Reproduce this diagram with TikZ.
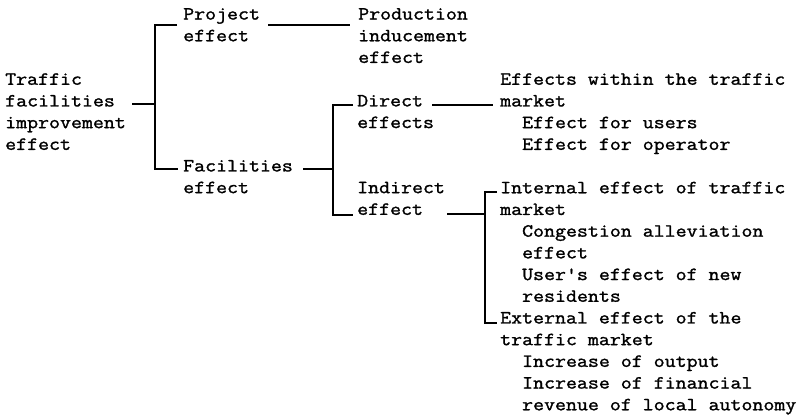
\documentclass[tikz,border=0pt]{standalone}
\usepackage{fontspec}
\newfontfamily\typefont[FakeStretch=1.145, FakeBold=1.4]{Latin Modern Mono}
\newcommand{\txtfont}{\typefont\fontsize{18.6}{21.7}\selectfont}
\newcommand{\ind}{\phantom{xx}}
\begin{document}
\begin{tikzpicture}[x=1pt,y=-1pt,
  lbl/.style={anchor=north west, inner sep=0pt, align=left, font=\txtfont,
              execute at begin node=\strut},
  wire/.style={line width=1.1pt, line cap=butt}]
\useasboundingbox (0,0) rectangle (806,420);

% text blocks (top of first line = 8 + 21.7*row)
\node[lbl] (root)       at (5,73.1)    {Traffic\\facilities\\improvement\\effect};
\node[lbl] (project)    at (183,8.0)   {Project\\effect};
\node[lbl] (production) at (358,8.0)   {Production\\inducement\\effect};
\node[lbl] (facilities) at (183,159.9) {Facilities\\effect};
\node[lbl] (direct)     at (357,94.8)  {Direct\\effects};
\node[lbl] (indirect)   at (357,181.6) {Indirect\\effect};
\node[lbl] (within)     at (500,73.1)  {Effects within the traffic\\market\\\ind Effect for users\\\ind Effect for operator};
\node[lbl] (internal)   at (500,181.6) {Internal effect of traffic\\market\\\ind Congestion alleviation\\\ind effect\\\ind User's effect of new\\\ind residents};
\node[lbl] (external)   at (500,311.8) {External effect of the\\traffic market\\\ind Increase of output\\\ind Increase of financial\\\ind revenue of local autonomy};

% bracket corners and junctions
\coordinate (jA)  at (155,104);
\coordinate (aT)  at (155,25);
\coordinate (aB)  at (155,169);
\coordinate (jB)  at (333,169);
\coordinate (bT)  at (333,105);
\coordinate (bB)  at (333,215);
\coordinate (jC)  at (485,214);
\coordinate (cT)  at (485,192);
\coordinate (cB)  at (485,323);

% first level
\draw[wire] ([xshift=6pt]root.east |- jA) -- (jA);
\draw[wire] ([xshift=-6pt]project.west |- aT) -- (aT) -- (aB) -- ([xshift=-5pt]facilities.west |- aB);
\draw[wire] ([xshift=85pt]project.west |- aT) -- ([xshift=-8pt]production.west |- aT);

% facilities branch
\draw[wire] ([xshift=10pt]facilities.east |- jB) -- (jB);
\draw[wire] ([xshift=-4pt]direct.west |- bT) -- (bT) -- (bB) -- ([xshift=-4pt]indirect.west |- bB);
\draw[wire] ([xshift=75pt]direct.west |- bT) -- ([xshift=-7pt]within.west |- bT);

% indirect branch
\draw[wire] ([xshift=90pt]indirect.west |- jC) -- (jC);
\draw[wire] ([xshift=-3pt]internal.west |- cT) -- (cT) -- (cB) -- ([xshift=-3pt]external.west |- cB);
\end{tikzpicture}
\end{document}
